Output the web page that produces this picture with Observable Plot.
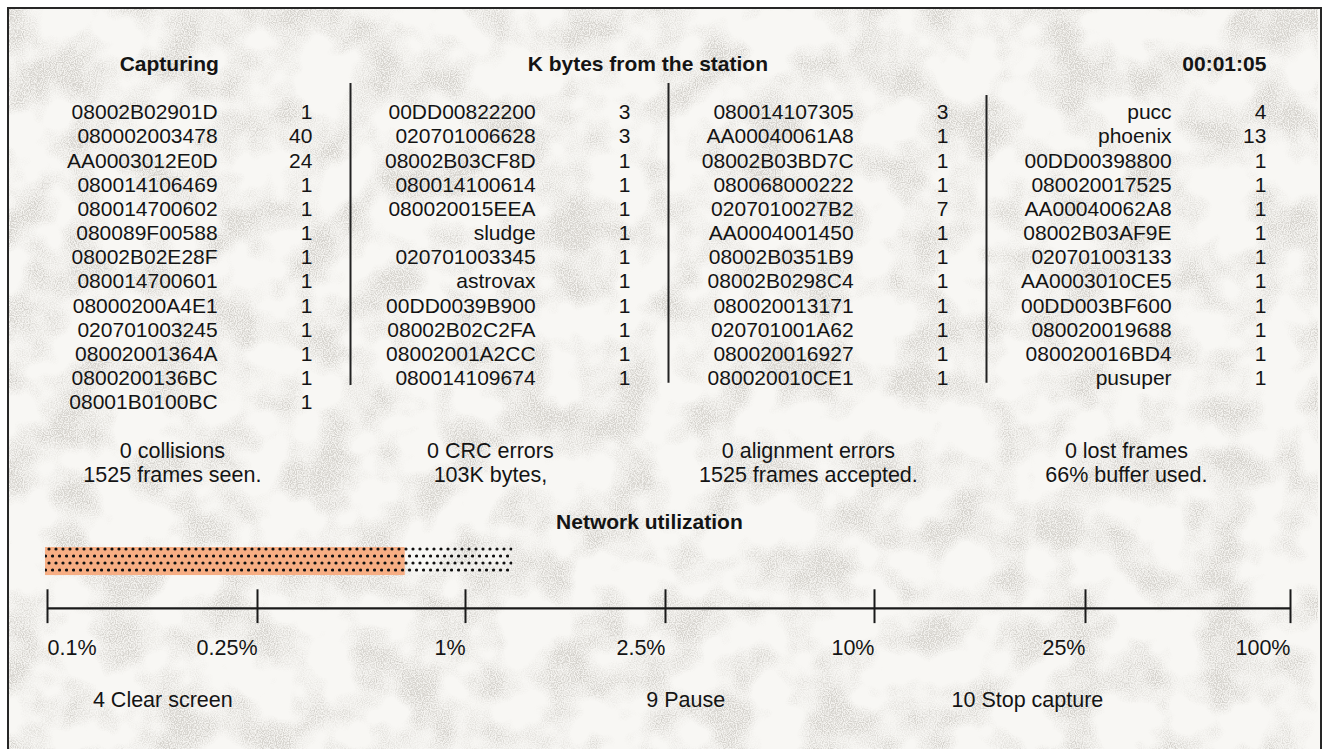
<!DOCTYPE html>
<html>
<head>
<meta charset="utf-8">
<script src="https://cdn.jsdelivr.net/npm/d3@7"></script>
<script src="https://cdn.jsdelivr.net/npm/@observablehq/plot@0.6"></script>
<style>
  html, body { margin: 0; padding: 0; background: #ffffff; }
  #stage { position: relative; width: 1328px; height: 749px; overflow: hidden; background: #ffffff; }
  #frame { position: absolute; left: 7px; top: 7px; width: 1311px; height: 800px; border: 2px solid #262626; background: #f8f7f4; }
  #tex { position: absolute; left: 0; top: 0; }
  .layer { position: absolute; left: 0; top: 0; }
  .layer svg { max-width: none !important; }
</style>
</head>
<body>
<div id="stage">
  <div id="frame"></div>
  <svg id="tex" width="1328" height="749">
    <defs>
      <filter id="mottle" x="0" y="0" width="100%" height="100%">
        <feTurbulence type="fractalNoise" baseFrequency="0.02" numOctaves="3" seed="11" result="low"/>
        <feColorMatrix in="low" type="matrix" values="0 0 0 0 0.62  0 0 0 0 0.60  0 0 0 0 0.56  2.6 0 0 0 -1.05" result="blotch"/>
        <feTurbulence type="fractalNoise" baseFrequency="0.85" numOctaves="1" seed="3" result="hi"/>
        <feColorMatrix in="hi" type="matrix" values="0 0 0 0 0.55  0 0 0 0 0.53  0 0 0 0 0.50  3.0 0 0 0 -1.1" result="speck"/>
        <feComposite in="speck" in2="blotch" operator="arithmetic" k1="1.2" k2="0" k3="0.2" k4="0" result="mix"/>
      </filter>
    </defs>
    <rect x="9" y="9" width="1309" height="740" fill="#000" filter="url(#mottle)" opacity="0.45"/>
  </svg>
  <div id="plotA" class="layer"></div>
  <div id="plotB" class="layer"></div>
</div>
<script>
// ---------- DATA ----------
const headerCapturing = "Capturing";
const headerKBytes = "K bytes from the station";
const elapsedTime = "00:01:05";

const col1Stations = ["08002B02901D","080002003478","AA0003012E0D","080014106469","080014700602","080089F00588","08002B02E28F","080014700601","08000200A4E1","020701003245","08002001364A","0800200136BC","08001B0100BC"];
const col1KBytes = [1,40,24,1,1,1,1,1,1,1,1,1,1];
const col2Stations = ["00DD00822200","020701006628","08002B03CF8D","080014100614","080020015EEA","sludge","020701003345","astrovax","00DD0039B900","08002B02C2FA","08002001A2CC","080014109674"];
const col2KBytes = [3,3,1,1,1,1,1,1,1,1,1,1];
const col3Stations = ["080014107305","AA00040061A8","08002B03BD7C","080068000222","0207010027B2","AA0004001450","08002B0351B9","08002B0298C4","080020013171","020701001A62","080020016927","080020010CE1"];
const col3KBytes = [3,1,1,1,7,1,1,1,1,1,1,1];
const col4Stations = ["pucc","phoenix","00DD00398800","080020017525","AA00040062A8","08002B03AF9E","020701003133","AA0003010CE5","00DD003BF600","080020019688","080020016BD4","pusuper"];
const col4KBytes = [4,13,1,1,1,1,1,1,1,1,1,1];

const statLine1 = ["0 collisions","0 CRC errors","0 alignment errors","0 lost frames"];
const statLine2 = ["1525 frames seen.","103K bytes,","1525 frames accepted.","66% buffer used."];

const utilTitle = "Network utilization";
const utilTicks = [0.1, 0.25, 1, 2.5, 10, 25, 100];
const utilTickLabels = ["0.1%","0.25%","1%","2.5%","10%","25%","100%"];
const utilCurrent = 0.79;   // orange bar (percent)
const utilPeak = 1.37;      // dotted extent (percent)

const keyNumbers = [4, 9, 10];
const keyLabels = ["Clear screen","Pause","Stop capture"];

// ---------- LAYOUT (not data) ----------
const keyX = [0.19, 1.93, 2.89];
const utilRange = [47, 257, 465, 665, 874, 1085, 1290];  // screen positions of the scale breakpoints
const FONT = "'Liberation Sans', Arial, Helvetica, sans-serif";
const INK = "#141414";

// ---------- BUILD TABLE ----------
const groups = [
  [col1Stations, col1KBytes],
  [col2Stations, col2KBytes],
  [col3Stations, col3KBytes],
  [col4Stations, col4KBytes]
];
const tableRows = groups.flatMap(([names, counts], g) =>
  names.map((name, row) => ({group: g, row, name, count: counts[row]})));
const stats = statLine1.map((t, g) => ({group: g, top: t, bottom: statLine2[g]}));
const keys = keyNumbers.map((n, i) => ({x: keyX[i], text: `${n} ${keyLabels[i]}`}));
const dividers = [{x: 1, y1: -1.2, y2: 11.3}, {x: 2, y1: -1.2, y2: 11.2}, {x: 3, y1: -0.7, y2: 11.2}];

const yScale = {domain: [0, 12], range: [112, 402], axis: null};

const plotA = Plot.plot({
  width: 1328, height: 749, margin: 0,
  style: {background: "transparent", fontFamily: FONT, color: INK, overflow: "visible"},
  x: {domain: [0, 4], range: [32, 1304], axis: null},
  y: yScale,
  marks: [
    Plot.text([headerCapturing], {x: 0.43, y: -2, text: d => d, fontWeight: "bold", fontSize: 21, textAnchor: "middle"}),
    Plot.text([headerKBytes], {x: 1.935, y: -2, text: d => d, fontWeight: "bold", fontSize: 21, textAnchor: "middle"}),
    Plot.text([elapsedTime], {x: 3.88, y: -2, text: d => d, fontWeight: "bold", fontSize: 21, textAnchor: "end"}),
    Plot.text(tableRows, {x: d => d.group + 0.582, y: "row", text: "name", fontSize: 21, textAnchor: "end"}),
    Plot.text(tableRows, {x: d => d.group + 0.88, y: "row", text: d => String(d.count), fontSize: 21, textAnchor: "end"}),
    Plot.ruleX(dividers, {x: "x", y1: "y1", y2: "y2", stroke: "#222", strokeWidth: 2}),
    Plot.text(stats, {x: d => d.group + 0.44, y: 14, text: "top", fontSize: 21.5, textAnchor: "middle"}),
    Plot.text(stats, {x: d => d.group + 0.44, y: 15, text: "bottom", fontSize: 21.5, textAnchor: "middle"}),
    Plot.text([utilTitle], {x: 1.94, y: 16.96, text: d => d, fontWeight: "bold", fontSize: 21, textAnchor: "middle"}),
    Plot.text(keys, {x: "x", y: 24.3, text: "text", fontSize: 21.5, textAnchor: "start"})
  ]
});
document.getElementById("plotA").append(plotA);

// ---------- UTILIZATION BAR ----------
const util = [{lo: utilTicks[0], current: utilCurrent, peak: utilPeak}];
const tickRows = utilTicks.map((v, i) => ({v, label: utilTickLabels[i], first: i === 0}));

const plotB = Plot.plot({
  width: 1328, height: 749, margin: 0,
  style: {background: "transparent", fontFamily: FONT, color: INK, overflow: "visible"},
  x: {type: "linear", domain: utilTicks, range: utilRange, axis: null},
  y: yScale,
  marks: [
    Plot.rect(util, {x1: "lo", x2: "current", y1: 18.0, y2: 19.16, fill: "#f7ae84", dx: -2}),
    Plot.rect(util, {x1: "lo", x2: "peak", y1: 18.0, y2: 19.16, fill: "url(#dots)", dx: -2}),
    Plot.ruleY([20.52], {x1: utilTicks[0], x2: utilTicks[utilTicks.length - 1], stroke: "#1a1a1a", strokeWidth: 2.2}),
    Plot.ruleX(utilTicks, {y1: 19.75, y2: 21.15, stroke: "#1a1a1a", strokeWidth: 2}),
    Plot.text(tickRows.filter(d => d.first), {x: "v", y: 22.18, text: "label", fontSize: 21.5, textAnchor: "start"}),
    Plot.text(tickRows.filter(d => !d.first), {x: "v", y: 22.18, text: "label", fontSize: 21.5, textAnchor: "end"})
  ]
});
const defs = d3.select(plotB).insert("defs", ":first-child");
const pat = defs.append("pattern").attr("id", "dots").attr("patternUnits", "userSpaceOnUse")
  .attr("width", 7).attr("height", 14);
pat.append("circle").attr("cx", 2).attr("cy", 3).attr("r", 1.6).attr("fill", "#111");
pat.append("circle").attr("cx", 5.5).attr("cy", 10).attr("r", 1.6).attr("fill", "#111");
document.getElementById("plotB").append(plotB);
</script>
</body>
</html>
